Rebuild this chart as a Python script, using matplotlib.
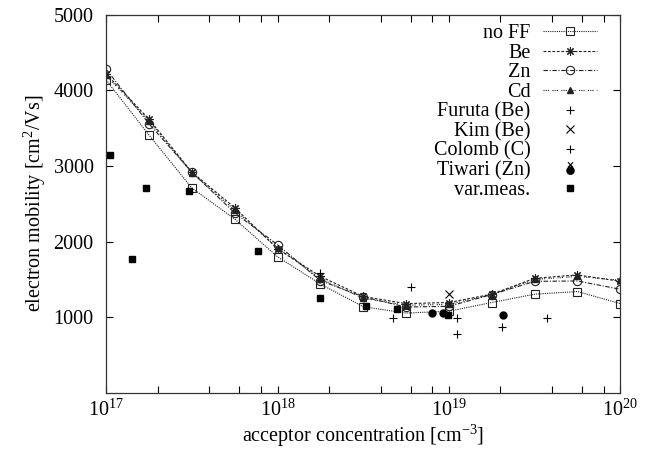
import matplotlib

matplotlib.use("Agg")
import matplotlib.pyplot as plt
import numpy as np
from matplotlib.lines import Line2D
from matplotlib.path import Path
from matplotlib.ticker import FixedLocator, NullFormatter


# model curves at quarter-decade acceptor concentrations
conc = 10 ** np.arange(17.0, 20.01, 0.25)
mu_noff = [4140, 3410, 2710, 2300, 1800, 1440, 1140, 1055, 1080, 1195, 1305, 1340, 1180]
mu_be = [4220, 3620, 2920, 2450, 1905, 1540, 1275, 1180, 1195, 1305, 1515, 1560, 1475]
mu_zn = [4280, 3560, 2920, 2380, 1960, 1485, 1270, 1135, 1145, 1300, 1475, 1480, 1370]
mu_cd = [4200, 3600, 2910, 2420, 1920, 1510, 1250, 1160, 1170, 1300, 1500, 1540, 1490]

# measurements
furuta_x = [1.76e18, 6.0e18]
furuta_y = [1590, 1400]
kim_x = [1.0e19]
kim_y = [1305]
colomb_x = [4.7e18, 1.11e19, 1.12e19, 2.05e19, 3.75e19]
colomb_y = [990, 995, 780, 870, 990]
tiwari_x = [8.0e18, 9.3e18, 2.07e19]
tiwari_y = [1055, 1055, 1025]
var_x = [1.05e17, 1.42e17, 1.71e17, 3.04e17, 7.7e17, 1.76e18, 3.28e18, 4.98e18, 9.84e18]
var_y = [3150, 1770, 2715, 2665, 1880, 1260, 1150, 1105, 1030]

plt.rcParams["font.family"] = ["Liberation Serif", "DejaVu Serif"]
plt.rcParams["mathtext.fontset"] = "custom"
plt.rcParams["mathtext.rm"] = "Liberation Serif"
plt.rcParams["mathtext.it"] = "Liberation Serif:italic"
plt.rcParams["font.size"] = 14

fig = plt.figure(figsize=(6.55, 4.5), dpi=100)
ax = fig.add_axes([0.162, 0.127, 0.785, 0.840])

line_kw = dict(color="#222222", linewidth=0.8, markersize=6, markeredgewidth=0.8)
ax.plot(conc, mu_noff, marker="s", markerfacecolor="none", dashes=(1, 1),
        label="no FF", **line_kw)
ax.plot(conc, mu_be, marker=(8, 2, 0), dashes=(2.5, 1.5), label="Be", **line_kw)
ax.plot(conc, mu_zn, marker="o", markerfacecolor="none", dashes=(4, 1.5, 1, 1.5),
        label="Zn", **line_kw)
ax.plot(conc, mu_cd, marker="^", markersize=4, color="#222222", linewidth=0.8,
        dashes=(1, 1, 1, 1, 1, 3), label="Cd")

ax.plot(furuta_x, furuta_y, "+", color="black", markersize=6, markeredgewidth=0.8,
        label="Furuta (Be)")
ax.plot(kim_x, kim_y, "x", color="black", markersize=6, markeredgewidth=0.8,
        label="Kim (Be)")
ax.plot(colomb_x, colomb_y, "+", color="black", markersize=6, markeredgewidth=0.8,
        label="Colomb (C)")
ax.plot(tiwari_x, tiwari_y, "o", color="black", markersize=5, label="Tiwari (Zn)")
ax.plot(var_x, var_y, "s", color="black", markersize=5, label="var.meas.")

ax.set_xscale("log")
ax.set_xlim(1e17, 1e20)
ax.set_ylim(0, 5000)
ax.set_yticks([1000, 2000, 3000, 4000, 5000])
ax.xaxis.set_major_locator(FixedLocator([1e17, 1e18, 1e19, 1e20]))
minors = [m * 10.0 ** d for d in (17, 18, 19) for m in (2, 4, 6, 8)]
ax.xaxis.set_minor_locator(FixedLocator(minors))
ax.xaxis.set_minor_formatter(NullFormatter())
ax.set_xticklabels([r"$10^{17}$", r"$10^{18}$", r"$10^{19}$", r"$10^{20}$"])

ax.tick_params(which="both", direction="in", top=True, right=True, labelsize=14.5)
ax.tick_params(which="major", length=5, width=0.8)
ax.tick_params(which="minor", length=5, width=0.8)
ax.tick_params(axis="y", pad=9)
ax.tick_params(axis="x", pad=5)
for spine in ax.spines.values():
    spine.set_linewidth(0.9)
    spine.set_color("#333333")

ax.set_xlabel(r"acceptor concentration [cm$^{-3}$]", fontsize=14.5, labelpad=1)
ax.set_ylabel(r"electron mobility [cm$^{2}$/Vs]", fontsize=14.5, labelpad=4)

# legend sample for Tiwari: the gnuplot key shows a cross sitting on the dot
cross = Path([(-0.35, 0.15), (0.35, 0.85), (-0.35, 0.85), (0.35, 0.15)],
             [Path.MOVETO, Path.LINETO, Path.MOVETO, Path.LINETO])
dot = Path.circle(center=(0.0, -0.3), radius=0.5)
tiwari_marker = Path.make_compound_path(cross, dot)

handles, labels = ax.get_legend_handles_labels()
tiwari_idx = labels.index("Tiwari (Zn)")
handles[tiwari_idx] = Line2D([], [], linestyle="none", marker=tiwari_marker,
                             color="black", markersize=9, markeredgewidth=0.8)

leg = ax.legend(handles, labels, loc="upper right", bbox_to_anchor=(0.955, 0.975),
                frameon=False, markerfirst=False, handlelength=2.7,
                handletextpad=0.6, labelspacing=0.02, fontsize=14.5,
                borderaxespad=0, borderpad=0)
for column in leg._legend_box._children[-1]._children:
    column.align = "right"

fig.savefig("out.png", dpi=100)
